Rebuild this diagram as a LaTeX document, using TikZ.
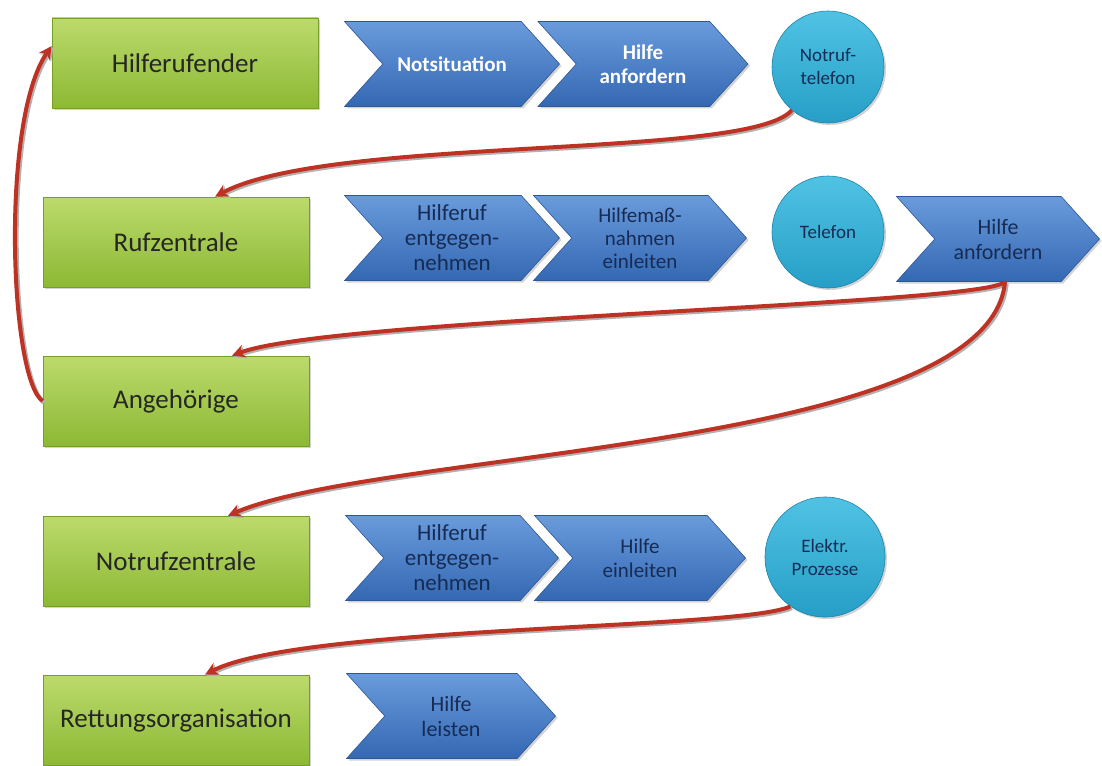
\documentclass[tikz,border=0pt]{standalone}
\usepackage{fontspec}
\setmainfont{Carlito}
\usetikzlibrary{shapes.symbols,shadows,arrows.meta}
\definecolor{gTop}{RGB}{188,218,108}
\definecolor{gBot}{RGB}{140,185,52}
\definecolor{gLine}{RGB}{118,158,40}
\definecolor{bTop}{RGB}{105,155,220}
\definecolor{bBot}{RGB}{52,104,178}
\definecolor{bLine}{RGB}{45,88,150}
\definecolor{cTop}{RGB}{80,195,228}
\definecolor{cBot}{RGB}{38,158,198}
\definecolor{cLine}{RGB}{30,130,170}
\definecolor{navy}{RGB}{22,44,84}
\definecolor{arrRed}{RGB}{190,50,35}
\tikzset{
  x=1pt,y=-1pt,
  greenbox/.style={draw=gLine, line width=0.6pt, top color=gTop, bottom color=gBot,
    minimum width=266pt, minimum height=90pt, inner sep=0pt,
    font=\fontsize{27}{30}\selectfont, text=black!85,
    drop shadow={opacity=0.35, shadow xshift=2pt, shadow yshift=-2pt}},
  chev/.style={signal, signal from=west, signal to=east, signal pointer angle=96,
    draw=bLine, line width=0.6pt, top color=bTop, bottom color=bBot,
    minimum height=85pt, inner sep=0pt, align=center, text=navy,
    drop shadow={opacity=0.35, shadow xshift=2pt, shadow yshift=-2pt}},
  chevw/.style={chev, text=white, font=\bfseries\fontsize{21}{24}\selectfont},
  circ/.style={circle, draw=cLine, line width=0.6pt, top color=cTop, bottom color=cBot,
    minimum size=112pt, inner sep=0pt, align=center, text=navy,
    font=\fontsize{19}{23}\selectfont,
    drop shadow={opacity=0.35, shadow xshift=2pt, shadow yshift=-2pt}},
  redarrow/.style={draw=arrRed, line width=4pt,
    -{Stealth[length=13pt,width=13pt]},
    preaction={draw=black!30, line width=4.5pt, transform canvas={shift={(1.5pt,-1.5pt)}}}}
}
\begin{document}
\begin{tikzpicture}
\useasboundingbox (0,0) rectangle (1102,765);
% green boxes
\node[greenbox] (g1) at (185,63) {Hilferufender};
\node[greenbox] (g2) at (176,242) {Rufzentrale};
\node[greenbox] (g3) at (176,401) {Angehörige};
\node[greenbox] (g4) at (176,561) {Notrufzentrale};
\node[greenbox] (g5) at (176,720) {Rettungsorganisation};
% row 1
\node[chevw, minimum width=215pt] (r1a) at (452,64) {Notsituation};
\node[chevw, minimum width=210pt] (r1b) at (643,64) {Hilfe\\anfordern};
\node[circ] (c1) at (828,67) {Notruf-\\telefon};
% row 2
\node[chev, minimum width=215pt, font=\fontsize{23}{25}\selectfont] (r2a) at (452,238) {Hilferuf\\entgegen-\\nehmen};
\node[chev, minimum width=213pt, font=\fontsize{21}{23}\selectfont] (r2b) at (640,238) {Hilfemaß-\\nahmen\\einleiten};
\node[circ] (c2) at (828,232) {Telefon};
\node[chev, minimum width=203pt, font=\fontsize{22}{25}\selectfont] (r2c) at (998,239) {Hilfe\\anfordern};
% row 4
\node[chev, minimum width=213pt, font=\fontsize{23}{25}\selectfont] (r4a) at (452,558) {Hilferuf\\entgegen-\\nehmen};
\node[chev, minimum width=211pt, font=\fontsize{21}{24}\selectfont] (r4b) at (640,558) {Hilfe\\einleiten};
\node[circ, minimum size=120pt] (c3) at (825,557) {Elektr.\\Prozesse};
% row 5
\node[chev, minimum width=209pt, font=\fontsize{22}{25}\selectfont] (r5) at (451,716) {Hilfe\\leisten};
% connectors
\coordinate (s1) at (c1.-130);
\coordinate (e1) at ([xshift=39pt]g2.north);
\draw[redarrow] (s1) .. controls (750,160) and (330,135) .. (e1);
\coordinate (s2) at ([xshift=7pt]r2c.south);
\coordinate (e2) at ([xshift=56pt]g3.north);
\draw[redarrow] (s2) .. controls (985,305) and (330,318) .. (e2);
\coordinate (e3) at ([xshift=52pt]g4.north);
\draw[redarrow] (s2) .. controls (990,450) and (380,450) .. (e3);
\coordinate (s4) at (c3.-125);
\coordinate (e4) at ([xshift=29pt]g5.north);
\draw[redarrow] (s4) .. controls (740,630) and (300,625) .. (e4);
\coordinate (s5) at (g3.west);
\coordinate (e5) at ([yshift=17pt]g1.west);
\draw[redarrow] (s5) .. controls (10,380) and (0,120) .. (e5);
\end{tikzpicture}
\end{document}
